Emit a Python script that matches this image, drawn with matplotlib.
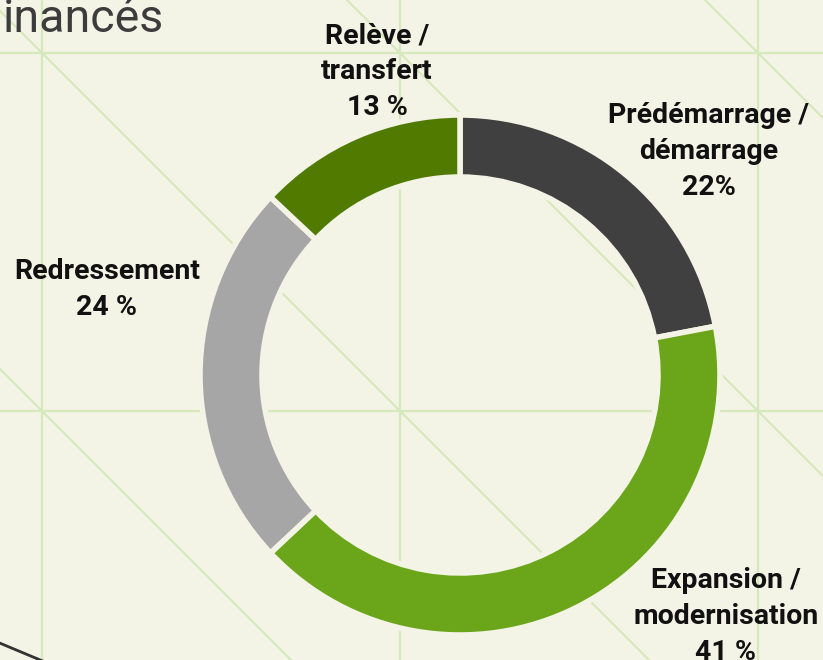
import matplotlib
matplotlib.use('Agg')
from matplotlib import pyplot as plt

# Data
categories = ['Prédémarrage /\ndémarrage', 'Expansion /\nmodernisation', 'Redressement', 'Relève /\ntransfert']
shares = [22, 41, 24, 13]
pct_labels = ['22%', '41 %', '24 %', '13 %']
colors = ['#404040', '#6aa51a', '#a6a6a6', '#507a00']

BG = '#f3f4e6'
GRID = '#d6e9bd'
W, H = 823, 660

plt.rcParams['font.family'] = ['Roboto', 'DejaVu Sans']

fig = plt.figure(figsize=(W / 100, H / 100), dpi=100, facecolor=BG)
ax = fig.add_axes([0, 0, 1, 1])
ax.set_facecolor(BG)

# background pattern: square grid with one diagonal per cell
cell = 358
x0, y0 = 42, 53
for i in range(-2, 4):
    gx = x0 + i * cell
    ax.plot([gx, gx], [0, H], color=GRID, lw=1.6, zorder=0)
    gy = y0 + i * cell
    ax.plot([0, W], [H - gy, H - gy], color=GRID, lw=1.6, zorder=0)
for i in range(-4, 4):
    sx = x0 + i * cell
    ax.plot([sx, sx + 4 * cell], [H - y0 + cell, H - y0 - 3 * cell],
            color=GRID, lw=1.6, zorder=0)

# dark decoration line at bottom-left
ax.plot([-10, 45], [H - 639, H - 662], color='#333333', lw=2, zorder=1)

# donut
cx, cy = 460, H - 375
R = 260
ax.pie(shares, colors=colors, startangle=90, counterclock=False,
       center=(cx, cy), radius=R,
       wedgeprops=dict(width=62, edgecolor=BG, linewidth=4))

# labels (y = baseline of the last line, in pixels from top)
label_pos = [(709, 195), (726, 660), (107, 315), (377, 115)]
for name, pct, (lx, ly) in zip(categories, pct_labels, label_pos):
    ax.text(lx, H - ly, name + '\n' + pct, ha='center', va='baseline',
            fontsize=20.5, fontweight='bold', color='#111111',
            linespacing=1.42, multialignment='center')

ax.text(3, H - 32, 'inancés', ha='left', va='baseline', fontsize=33.5,
        color='#3c3c3c')

ax.set_xlim(0, W)
ax.set_ylim(0, H)
ax.set_aspect('equal')
ax.axis('off')

fig.savefig('out.png', dpi=100, facecolor=BG)
